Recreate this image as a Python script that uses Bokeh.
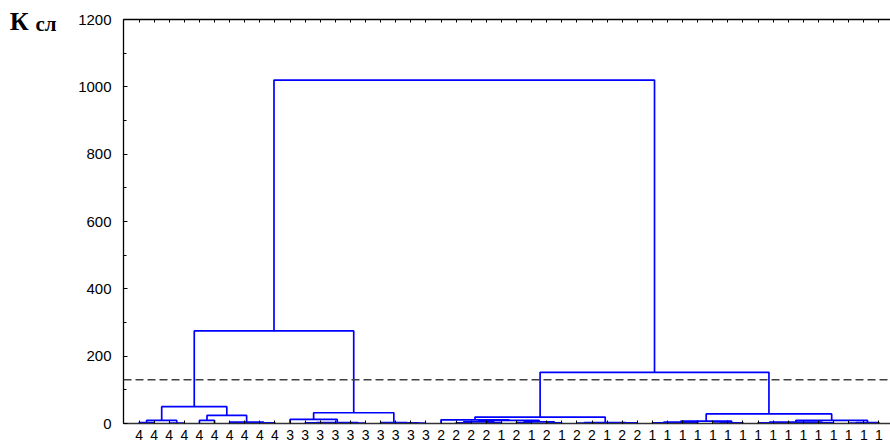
from bokeh.plotting import figure
from bokeh.models import Range1d, LinearAxis, FixedTicker, Span
from bokeh.embed import file_html
from bokeh.resources import INLINE

# ---- data -------------------------------------------------------------
# leaf labels in dendrogram order (left to right)
leaf_labels = ["4"] * 10 + ["3"] * 10 + \
    ["2", "2", "2", "2", "1", "2", "1", "2", "1", "2", "2", "1", "2", "2"] + ["1"] * 16

# merges: node name, left child, right child (leaf index or node name), linkage distance
merge_names = ["a1", "a2", "A", "C", "g1", "G", "D", "CD", "K4",
               "b1", "b2", "b3", "X", "L3", "y1", "y2", "Y", "K3", "LEFT",
               "q1", "q2", "Q1", "q3", "q4", "Q2", "Q", "P", "r1", "r2", "r3", "R", "RL",
               "s1", "s2", "S1", "s3", "S2", "S", "t1", "t2", "t3", "t4", "T1", "t5", "T2", "T", "RR",
               "RIGHT", "ROOT"]
merge_left = [0, 2, "a1", 4, 7, "g1", 6, "C", "A",
              12, 11, 14, "b2", 10, 18, 17, 16, "L3", "K4",
              21, 23, "q1", 25, 27, "q3", "Q1", 20, 29, 31, "r2", "r1", "P",
              35, 34, "s2", 38, "s3", "S1", 42, 41, 44, "t3", "t2", 47, "t5", "T1", "S",
              "RL", "LEFT"]
merge_right = [1, 3, "a2", 5, 8, 9, "G", "D", "CD",
               13, "b1", 15, "b3", "X", 19, "y1", "y2", "Y", "K3",
               22, 24, "q2", 26, 28, "q4", "Q2", "Q", 30, 32, 33, "r3", "R",
               36, "s1", 37, 39, 40, "S2", 43, "t1", 45, 46, "t4", 48, 49, "T2", "T",
               "RR", "RIGHT"]
merge_height = [2.5, 1.5, 9, 9, 1, 2, 4, 24, 50,
                1, 2, 1, 3, 12, 1, 2, 3, 32, 275,
                2, 3, 5, 3, 2, 5, 9, 11, 1, 1, 2, 3, 19,
                1, 2, 4, 1, 2, 7, 1, 2, 1, 2, 4, 1, 3, 9, 28.5,
                152, 1020]

cut_level = 130
y_ticks = [0, 200, 400, 600, 800, 1000, 1200]
y_title_main = "К"
y_title_sub = "сл"

# ---- build dendrogram polylines -------------------------------------
pos = {}
hgt = {}
xs, ys = [], []
for name, l, r, h in zip(merge_names, merge_left, merge_right, merge_height):
    xl = float(l) if isinstance(l, int) else pos[l]
    yl = 0.0 if isinstance(l, int) else hgt[l]
    xr = float(r) if isinstance(r, int) else pos[r]
    yr = 0.0 if isinstance(r, int) else hgt[r]
    xs.append([xl, xl, xr, xr])
    ys.append([yl, h, h, yr])
    pos[name] = (xl + xr) / 2
    hgt[name] = h

n = len(leaf_labels)

p = figure(width=890, height=446, output_backend="svg", toolbar_location=None,
           x_range=Range1d(-1.03, 49.77), y_range=Range1d(0, 1200),
           min_border_left=123, min_border_top=19, min_border_right=0, min_border_bottom=23,
           x_axis_location=None, y_axis_location=None)
p.outline_line_color = None
p.grid.visible = False
p.background_fill_color = "white"
p.border_fill_color = "white"

p.multi_line(xs, ys, line_color="#0000ff", line_width=1.7)

p.add_layout(Span(location=cut_level, dimension="width", line_color="#404040",
                  line_width=1.6, line_dash="8 4"))

# left axis
ya = LinearAxis(ticker=FixedTicker(ticks=y_ticks, minor_ticks=list(range(0, 1201, 100))))
ya.major_tick_in = 4
ya.major_tick_out = 0
ya.minor_tick_in = 3
ya.minor_tick_out = 0
ya.major_label_standoff = 12
ya.major_label_text_font = "Liberation Sans"
ya.major_label_text_font_size = "15px"
ya.major_label_text_color = "black"
ya.axis_line_color = "black"
ya.axis_line_width = 1.3
p.add_layout(ya, "left")


def title_axis(text, at, size, standoff):
    ax = LinearAxis(ticker=FixedTicker(ticks=[at], minor_ticks=[]))
    ax.major_label_overrides = {at: text}
    ax.major_label_text_font = "Liberation Serif"
    ax.major_label_text_font_style = "bold"
    ax.major_label_text_font_size = size
    ax.major_label_text_color = "black"
    ax.major_label_standoff = standoff
    ax.major_tick_in = 0
    ax.major_tick_out = 0
    ax.minor_tick_in = 0
    ax.minor_tick_out = 0
    ax.axis_line_color = None
    ax.major_tick_line_color = None
    return ax


# y-axis title "К" with subscript "сл", built from two extra label-only axes
p.add_layout(title_axis(y_title_sub, 1186, "21px", 19), "left")
p.add_layout(title_axis(y_title_main, 1195, "26px", 4), "left")

# bottom axis with leaf labels
xa = LinearAxis(ticker=FixedTicker(ticks=list(range(n)), minor_ticks=[]))
xa.major_label_overrides = {i: lab for i, lab in enumerate(leaf_labels)}
xa.major_tick_in = 3
xa.major_tick_out = 0
xa.minor_tick_in = 0
xa.minor_tick_out = 0
xa.major_label_standoff = 6
xa.major_label_text_font = "Liberation Sans"
xa.major_label_text_font_size = "14px"
xa.major_label_text_color = "black"
xa.axis_line_color = "#333333"
xa.axis_line_width = 1.3
p.add_layout(xa, "below")

# top axis (frame line with ticks, no labels)
ta = LinearAxis(ticker=FixedTicker(ticks=list(range(n)), minor_ticks=[]))
ta.major_label_overrides = {i: "" for i in range(n)}
ta.major_label_text_font_size = "0px"
ta.major_label_standoff = 0
ta.major_tick_in = 3
ta.major_tick_out = 0
ta.minor_tick_in = 0
ta.minor_tick_out = 0
ta.axis_line_color = "black"
ta.axis_line_width = 1.3
p.add_layout(ta, "above")

open("out.html", "w").write(file_html(p, INLINE))
